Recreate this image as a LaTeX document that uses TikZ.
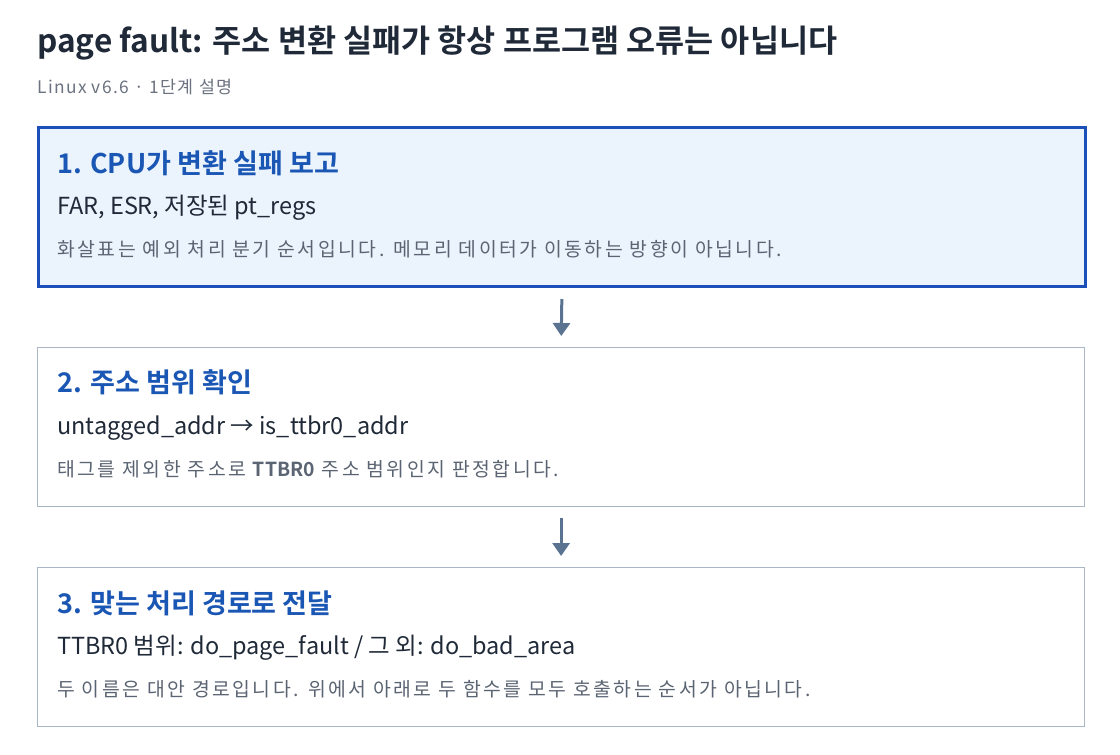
\documentclass[tikz,border=0pt]{standalone}
\usepackage{fontspec}
\setmainfont{Noto Sans CJK KR}[BoldFont={Noto Sans CJK KR Bold}]
\usetikzlibrary{arrows.meta,positioning}
\definecolor{inkdark}{HTML}{1F2937}
\definecolor{inkgray}{HTML}{6B7280}
\definecolor{inknote}{HTML}{5B6472}
\definecolor{headblue}{HTML}{1A56B4}
\definecolor{edgeblue}{HTML}{1D4FB8}
\definecolor{fillblue}{HTML}{EBF3FD}
\definecolor{edgegray}{HTML}{A9B6C6}
\definecolor{arrowgray}{HTML}{5A7390}

\begin{document}
\begin{tikzpicture}[x=0.75pt, y=-0.75pt,
  stepbox/.style={draw=edgegray, line width=0.9pt, fill=white, minimum width=785.25pt, minimum height=119.25pt, anchor=north west, inner sep=0pt},
  hotbox/.style={stepbox, draw=edgeblue, line width=2.25pt, fill=fillblue},
  headtxt/.style={anchor=west, inner sep=0pt, text=headblue, font=\bfseries\fontsize{20.3}{24}\selectfont},
  codetxt/.style={anchor=west, inner sep=0pt, text=inkdark, font=\fontsize{17.6}{20}\selectfont},
  notetxt/.style={anchor=west, inner sep=0pt, text=inknote, font=\fontsize{14.5}{17}\selectfont\addfontfeature{LetterSpace=13}},
  flow/.style={-{Triangle[width=12.75pt, length=9.75pt]}, draw=arrowgray, fill=arrowgray, line width=2.25pt, shorten <=8.25pt, shorten >=8.25pt}]
\useasboundingbox (0,0) rectangle (1120,754);
\fill[white] (0,0) rectangle (1120,754);
% title
\node[anchor=west, inner sep=0pt, text=inkdark, font=\bfseries\fontsize{23.7}{28}\selectfont] (title) at (37,43) {page fault: 주소 변환 실패가 항상 프로그램 오류는 아닙니다};
\node[anchor=west, inner sep=0pt, text=inkgray, font=\fontsize{13}{15}\selectfont\addfontfeature{LetterSpace=8}] (subtitle) at (37,87) {Linux v6.6 · 1단계 설명};
% step 1
\node[hotbox] (cpu) at (37,126) {};
\node[headtxt] (cpuhead) at (57,163) {1. CPU가 변환 실패 보고};
\node[codetxt] (cpucode) at (57,208) {FAR, ESR, 저장된 pt\_regs};
\node[notetxt] (cpunote) at (57,249) {화살표는 예외 처리 분기 순서입니다. 메모리 데이터가 이동하는 방향이 아닙니다.};
% step 2
\node[stepbox] (range) at (37,347) {};
\node[headtxt] (rangehead) at (57,382) {2. 주소 범위 확인};
\node[codetxt] (rangecode) at (57,428) {untagged\_addr → is\_ttbr0\_addr};
\node[notetxt] (rangenote) at (57,469) {태그를 제외한 주소로 {\bfseries\addfontfeature{LetterSpace=0}TTBR0} 주소 범위인지 판정합니다.};
% step 3
\node[stepbox] (route) at (37,567) {};
\node[headtxt] (routehead) at (57,603) {3. 맞는 처리 경로로 전달};
\node[codetxt] (routecode) at (57,648) {TTBR0 범위: do\_page\_fault / 그 외: do\_bad\_area};
\node[notetxt] (routenote) at (57,689) {두 이름은 대안 경로입니다. 위에서 아래로 두 함수를 모두 호출하는 순서가 아닙니다.};
% arrows
\draw[flow] (cpu.south) -- (range.north);
\draw[flow] (range.south) -- (route.north);
\end{tikzpicture}
\end{document}
